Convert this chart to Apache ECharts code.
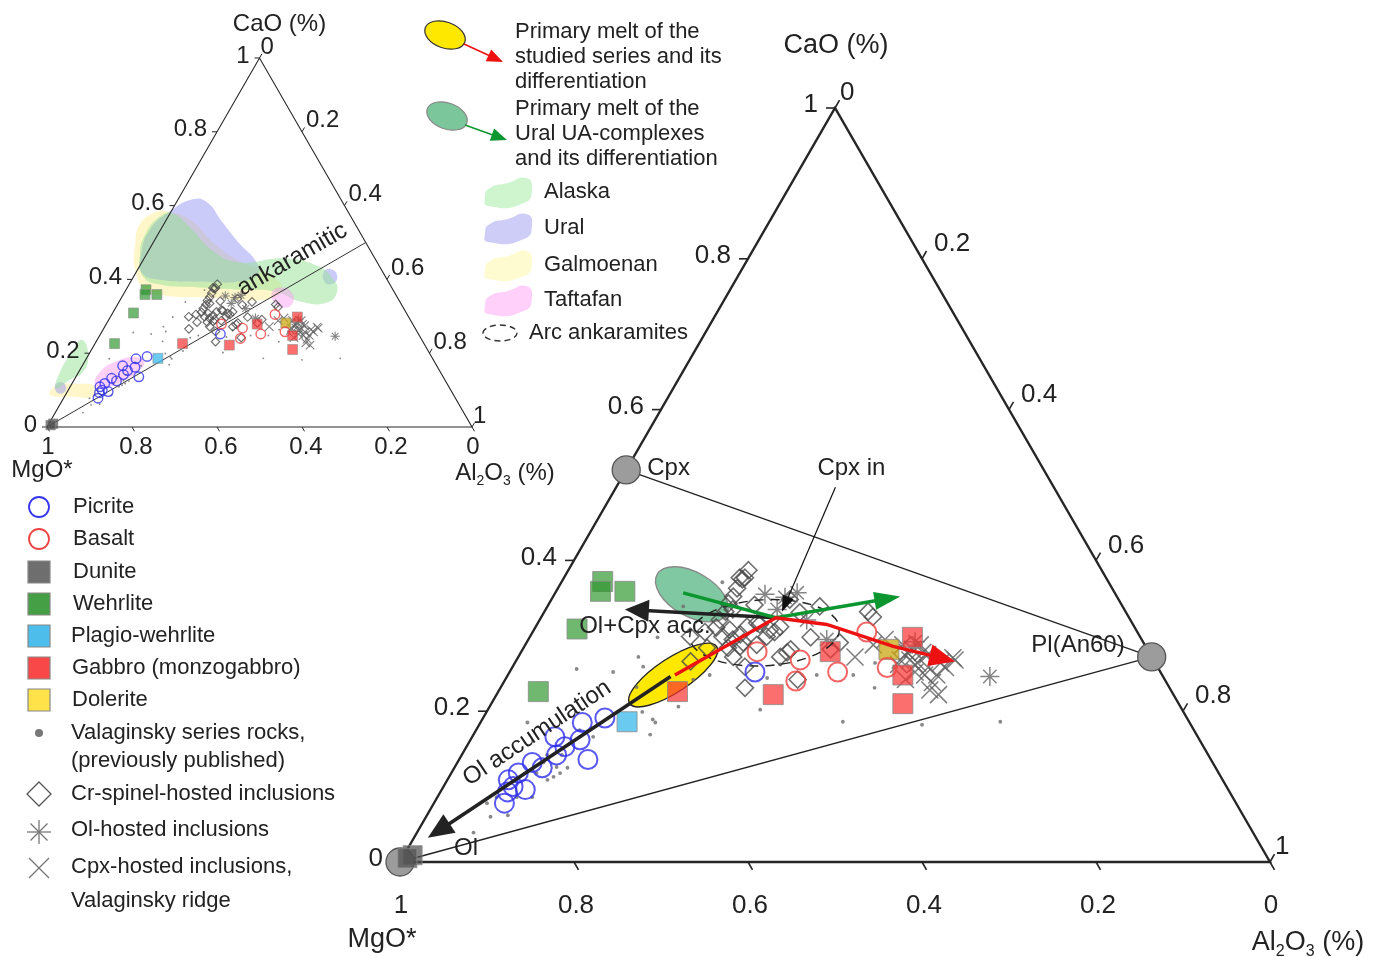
<!DOCTYPE html>
<html><head><meta charset="utf-8">
<script src="https://cdn.jsdelivr.net/npm/echarts@6/dist/echarts.min.js"></script>
<style>html,body{margin:0;padding:0;background:#fff}#c{width:1377px;height:957px}</style>
</head><body><div id="c"></div>
<script>
// ---------- DATA: ternary compositions [Al2O3, CaO] (MgO* = 1 - Al2O3 - CaO) ----------
const tickVals = [0, 0.2, 0.4, 0.6, 0.8, 1];
const tickText = ['0', '0.2', '0.4', '0.6', '0.8', '1'];

const picrite = [[0.140,0.191],[0.117,0.185],[0.126,0.162],[0.148,0.136],[0.113,0.153],[0.095,0.166],[0.109,0.142],[0.101,0.125],[0.086,0.132],[0.077,0.118],[0.070,0.109],[0.080,0.100],[0.096,0.096],[0.081,0.078],[0.077,0.093],[0.282,0.252]];
const basalt = [[0.271,0.279],[0.326,0.268],[0.335,0.240],[0.377,0.252],[0.384,0.305],[0.431,0.258]];
const dunite = [[0.010,0.009],[0.006,0.005]];
const wehrlite = [[0.047,0.372],[0.051,0.359],[0.079,0.359],[0.049,0.309],[0.046,0.226]];
const plagioWehrlite = [[0.168,0.186]];
const gabbro = [[0.206,0.226],[0.318,0.222],[0.355,0.279],[0.440,0.298],[0.454,0.248],[0.473,0.210]];
const dolerite = [[0.421,0.282]];
const valaginsky = [[0.075,0.256],[0.119,0.252],[0.138,0.272],[0.150,0.259],[0.054,0.185],[0.139,0.166],[0.196,0.189],[0.203,0.169],[0.130,0.125],[0.120,0.113],[0.115,0.109],[0.125,0.118],[0.098,0.118],[0.074,0.060],[0.093,0.062],[0.065,0.039],[0.068,0.086],[0.061,0.078],[0.091,0.086],[0.109,0.086],[0.119,0.175],[0.115,0.142],[0.098,0.142],[0.099,0.132],[0.117,0.126],[0.216,0.242],[0.217,0.206],[0.179,0.199],[0.185,0.371],[0.156,0.339],[0.147,0.298],[0.232,0.248],[0.300,0.244],[0.355,0.248],[0.397,0.248],[0.430,0.231],[0.509,0.182],[0.597,0.186],[0.416,0.186],[0.201,0.185],[0.156,0.232],[0.313,0.202],[0.414,0.264],[0.306,0.262]];
const crSpinelIncl = [[0.207,0.387],[0.206,0.375],[0.206,0.363],[0.207,0.352],[0.206,0.343],[0.208,0.332],[0.207,0.321],[0.208,0.311],[0.198,0.305],[0.184,0.299],[0.221,0.299],[0.235,0.295],[0.248,0.286],[0.247,0.272],[0.281,0.231],[0.271,0.308],[0.281,0.312],[0.306,0.278],[0.336,0.242],[0.313,0.339],[0.354,0.282],[0.360,0.291],[0.372,0.332],[0.381,0.325],[0.237,0.341],[0.256,0.315],[0.294,0.331],[0.323,0.298],[0.211,0.284],[0.267,0.259],[0.202,0.377],[0.274,0.348],[0.201,0.266],[0.252,0.317],[0.243,0.312],[0.240,0.302],[0.249,0.291],[0.266,0.288],[0.272,0.299],[0.278,0.305],[0.235,0.284],[0.225,0.308],[0.215,0.335],[0.301,0.272],[0.308,0.282],[0.208,0.377]];
const olIncl = [[0.242,0.355],[0.278,0.357],[0.266,0.335],[0.307,0.321],[0.343,0.295],[0.446,0.292],[0.555,0.246],[0.267,0.351]];
const cpxIncl = [[0.387,0.272],[0.495,0.228],[0.493,0.248],[0.500,0.271],[0.463,0.264],[0.444,0.278],[0.462,0.278],[0.466,0.252],[0.400,0.288],[0.478,0.258],[0.452,0.268],[0.442,0.262],[0.489,0.264],[0.460,0.242],[0.434,0.288],[0.448,0.282],[0.454,0.288],[0.469,0.275],[0.441,0.268],[0.461,0.262],[0.479,0.248],[0.493,0.238],[0.508,0.222],[0.504,0.268],[0.410,0.295],[0.498,0.258]];

// fields (inset diagram)
const alaskaA = [[-0.030,0.522],[-0.019,0.571],[0.005,0.579],[0.066,0.541],[0.153,0.476],[0.231,0.446],[0.327,0.457],[0.417,0.437],[0.472,0.402],[0.499,0.367],[0.490,0.337],[0.426,0.340],[0.353,0.367],[0.268,0.372],[0.171,0.378],[0.073,0.386],[0.022,0.408],[-0.015,0.467]];
const alaskaB = [[-0.036,0.236],[-0.001,0.196],[0.010,0.149],[-0.010,0.128],[-0.032,0.106],[-0.044,0.149],[-0.043,0.204]];
const uralA = [[0.014,0.418],[-0.012,0.467],[-0.025,0.535],[-0.003,0.584],[0.035,0.617],[0.072,0.609],[0.133,0.557],[0.207,0.495],[0.268,0.448],[0.290,0.413],[0.257,0.394],[0.163,0.394],[0.066,0.399]];
const uralB = [[0.441,0.421],[0.457,0.427],[0.479,0.408],[0.479,0.389],[0.459,0.391]];
const uralC = [[-0.037,0.117],[-0.022,0.120],[-0.006,0.101],[-0.014,0.090],[-0.031,0.101]];
const galmoenanA = [[-0.040,0.495],[-0.056,0.549],[-0.037,0.581],[-0.007,0.584],[0.055,0.562],[0.148,0.495],[0.230,0.448],[0.318,0.413],[0.367,0.372],[0.340,0.345],[0.208,0.351],[0.100,0.356],[0.045,0.372],[-0.006,0.427]];
const galmoenanB = [[-0.036,0.087],[-0.035,0.111],[0.008,0.117],[0.063,0.109],[0.073,0.084],[0.013,0.082]];
const taftafanA = [[0.056,0.114],[0.050,0.149],[0.072,0.177],[0.112,0.190],[0.139,0.179],[0.141,0.155],[0.120,0.128],[0.083,0.106]];
const taftafanB = [[0.347,0.364],[0.364,0.378],[0.394,0.364],[0.410,0.337],[0.398,0.323],[0.373,0.332]];
const ankaramiticLine = [[0,0],[0.5,0.5]];

// main-diagram phases, trends, melts
const olPt = [0, 0], cpxPt = [0, 0.52], plPt = [0.728, 0.272];
const olAccum = [[0.188,0.246],[0.016,0.032]];
const olCpxAccum = [[0.270,0.324],[0.091,0.335]];
const uralTrend = [[0.147,0.357],[0.270,0.324],[0.399,0.352]];
const studiedTrend = [[0.192,0.248],[0.270,0.324],[0.333,0.315],[0.424,0.286],[0.505,0.266]];
const cpxInPointer = [[0.252,0.497],[0.273,0.332]];
const studiedMelt = [0.190,0.248];
const uralMelt = [0.158,0.355];
const arcAnkaramites = [0.267,0.304];
const olAccumLabel = [0.072,0.171];
const ankaramiticLabel = [0.350,0.454];

// ---------- helpers ----------
const FONT = '"Liberation Sans", Arial, Helvetica, sans-serif';
const S3 = Math.sqrt(3) / 2;
const tern = p => [p[0] + p[1] / 2, p[1] * S3];

const txt = (s, x, y, align, size, extra) => Object.assign({
  type: 'text', silent: true,
  style: Object.assign({ text: s, x, y, align, verticalAlign: 'middle', fill: '#222', fontSize: size, fontFamily: FONT }, extra || {})
});
function arrowEls(pts, color, lw, L, W) {
  const n = pts.length, p = pts[n - 1], q = pts[n - 2];
  const dx = p[0] - q[0], dy = p[1] - q[1], d = Math.hypot(dx, dy), ux = dx / d, uy = dy / d;
  const base = [p[0] - ux * L * 0.85, p[1] - uy * L * 0.85];
  const hb = [p[0] - ux * L, p[1] - uy * L];
  return [
    { type: 'polyline', shape: { points: pts.slice(0, n - 1).concat([base]) }, style: { stroke: color, lineWidth: lw, fill: null } },
    { type: 'polygon', shape: { points: [p, [hb[0] - uy * W / 2, hb[1] + ux * W / 2], [hb[0] + uy * W / 2, hb[1] - ux * W / 2]] }, style: { fill: color } }
  ];
}
const ellipse = (c, rx, ry, rot, style) => ({ type: 'ellipse', x: c[0], y: c[1], rotation: rot, shape: { cx: 0, cy: 0, rx, ry }, style });

// ---------- frame / ticks / labels ----------
function frameSeries(gi, c) {
  return {
    type: 'custom', xAxisIndex: gi, yAxisIndex: gi, z: 1, silent: true, clip: false, data: [[0, 0]],
    renderItem(params, api) {
      const P = (al, ca) => api.coord(tern([al, ca]));
      const A = P(0, 0), B = P(1, 0), C = P(0, 1);
      const ch = [{ type: 'polygon', shape: { points: [A, B, C] }, style: { fill: 'none', stroke: '#262626', lineWidth: c.lw } }];
      const L = c.tick, ts = { stroke: '#262626', lineWidth: c.tlw };
      tickVals.forEach((v, i) => {
        const end = (v === 0 || v === 1);
        const b = P(1 - v, 0);
        ch.push({ type: 'line', shape: { x1: b[0], y1: b[1], x2: b[0] + L * 0.5, y2: b[1] + L * S3 }, style: ts });
        ch.push(txt(tickText[i], b[0] + (end ? c.bdx0 : c.bdx), b[1] + c.bdy, 'center', c.fs));
        const l = P(0, v);
        ch.push({ type: 'line', shape: { x1: l[0], y1: l[1], x2: l[0] - L, y2: l[1] }, style: ts });
        ch.push(txt(tickText[i], l[0] + c.ldx, l[1] + c.ldy, 'right', c.fs));
        const r = P(v, 1 - v);
        ch.push({ type: 'line', shape: { x1: r[0], y1: r[1], x2: r[0] + L * 0.5, y2: r[1] - L * S3 }, style: ts });
        ch.push(txt(tickText[i], r[0] + (end ? c.rdx0 : c.rdx), r[1] + c.rdy, 'left', c.fs));
      });
      ch.push(txt('CaO (%)', C[0] + c.ca[0], C[1] + c.ca[1], 'center', c.tfs));
      ch.push(txt('MgO*', A[0] + c.mg[0], A[1] + c.mg[1], 'center', c.tfs));
      ch.push(txt('Al{s|2}O{s|3} (%)', B[0] + c.al[0], B[1] + c.al[1], 'center', c.tfs, {
        rich: { s: { fontSize: Math.round(c.tfs * 0.58), fontFamily: FONT, fill: '#222', verticalAlign: 'bottom', lineHeight: Math.round(c.tfs * 0.62) } },
        lineHeight: Math.round(c.tfs * 1.25)
      }));
      return { type: 'group', children: ch };
    }
  };
}

// ---------- points ----------
const P_DIAMOND = 'path://M0,-10L10,0L0,10L-10,0Z';
const P_CROSS = 'path://M-10,-10L10,10M-10,10L10,-10';
const P_STAR = 'path://M0,-10L0,10M-10,0L10,0M-7.07,-7.07L7.07,7.07M-7.07,7.07L7.07,-7.07';
function pointSeries(gi, k, bw) {
  const defs = [
    [valaginsky, 'circle', 3.8, { color: '#6b6b6b' }],
    [crSpinelIncl, P_DIAMOND, 17, { color: 'rgba(0,0,0,0)', borderColor: '#4a4a4a', borderWidth: 1.6 }],
    [cpxIncl, P_CROSS, 17, { color: 'rgba(0,0,0,0)', borderColor: '#5e5e5e', borderWidth: 1.5 }],
    [olIncl, P_STAR, 19, { color: 'rgba(0,0,0,0)', borderColor: '#666', borderWidth: 1.5 }],
    [dunite, 'rect', 19, { color: 'rgba(80,80,80,0.9)', borderColor: '#8a8a8a', borderWidth: 1 }],
    [wehrlite, 'rect', 20, { color: 'rgba(45,150,45,0.85)', borderColor: '#8a8a8a', borderWidth: 1 }],
    [plagioWehrlite, 'rect', 20, { color: 'rgba(60,185,235,0.95)', borderColor: '#8a8a8a', borderWidth: 1 }],
    [gabbro, 'rect', 20, { color: 'rgba(250,50,50,0.88)', borderColor: '#8a8a8a', borderWidth: 1 }],
    [dolerite, 'rect', 20, { color: 'rgba(200,165,15,0.92)', borderColor: '#8a8a8a', borderWidth: 1 }],
    [picrite, 'circle', 19, { color: 'rgba(0,0,0,0)', borderColor: '#3030ee', borderWidth: 2 }],
    [basalt, 'circle', 19, { color: 'rgba(0,0,0,0)', borderColor: '#f04040', borderWidth: 2 }]
  ];
  return defs.map(([d, sym, size, st]) => ({
    type: 'scatter', xAxisIndex: gi, yAxisIndex: gi, z: 3, silent: true, symbol: sym,
    symbolSize: size * k,
    itemStyle: Object.assign({}, st, { borderWidth: (st.borderWidth || 0) * bw }),
    data: d.map(tern)
  }));
}

// ---------- fields in inset ----------
function fieldSeries() {
  const fields = [
    [galmoenanA, 'rgba(255,240,150,0.5)'], [galmoenanB, 'rgba(255,240,150,0.5)'],
    [uralA, 'rgba(140,140,245,0.45)'], [uralB, 'rgba(140,140,245,0.45)'], [uralC, 'rgba(140,140,245,0.45)'],
    [alaskaA, 'rgba(150,225,150,0.5)'], [alaskaB, 'rgba(150,225,150,0.5)'],
    [taftafanA, 'rgba(250,150,245,0.45)'], [taftafanB, 'rgba(250,150,245,0.45)']
  ];
  return {
    type: 'custom', xAxisIndex: 0, yAxisIndex: 0, z: 1, silent: true, clip: false, data: [[0, 0]],
    renderItem(params, api) {
      const P = q => api.coord(tern(q));
      const ch = fields.map(([poly, col]) => ({ type: 'polygon', shape: { points: poly.map(P), smooth: 0.5 }, style: { fill: col } }));
      const a = P(ankaramiticLine[0]), b = P(ankaramiticLine[1]);
      ch.push({ type: 'line', shape: { x1: a[0], y1: a[1], x2: b[0], y2: b[1] }, style: { stroke: '#333', lineWidth: 1 } });
      const t = P(ankaramiticLabel);
      ch.push({ type: 'text', x: t[0], y: t[1], rotation: Math.PI / 6, style: { text: 'ankaramitic', x: 0, y: 0, align: 'center', verticalAlign: 'middle', fontSize: 24, fontFamily: FONT, fill: '#222' } });
      return { type: 'group', children: ch };
    }
  };
}

// ---------- main decorations ----------
function mainBelow() {
  return {
    type: 'custom', xAxisIndex: 1, yAxisIndex: 1, z: 2, silent: true, clip: false, data: [[0, 0]],
    renderItem(params, api) {
      const P = q => api.coord(tern(q));
      const ol = P(olPt), cpx = P(cpxPt), pl = P(plPt);
      const ls = { stroke: '#222', lineWidth: 1.3 };
      const ch = [
        { type: 'line', shape: { x1: cpx[0], y1: cpx[1], x2: pl[0], y2: pl[1] }, style: ls },
        { type: 'line', shape: { x1: ol[0], y1: ol[1], x2: pl[0], y2: pl[1] }, style: ls },
        ellipse(P(studiedMelt), 52, 17, 0.58, { fill: '#ffe800', stroke: '#222', lineWidth: 1.4 }),
        ellipse(P(uralMelt), 40, 22, -0.52, { fill: 'rgba(100,188,140,0.82)', stroke: '#8a8a8a', lineWidth: 1.4 })
      ];
      [ol, cpx, pl].forEach(c => ch.push({ type: 'circle', shape: { cx: c[0], cy: c[1], r: 14 }, style: { fill: '#9c9c9c', stroke: '#555', lineWidth: 1.3 } }));
      return { type: 'group', children: ch };
    }
  };
}
function mainAbove() {
  return {
    type: 'custom', xAxisIndex: 1, yAxisIndex: 1, z: 5, silent: true, clip: false, data: [[0, 0]],
    renderItem(params, api) {
      const P = q => api.coord(tern(q));
      const ch = [];
      ch.push(ellipse(P(arcAnkaramites), 75, 33, 0.06, { fill: 'none', stroke: '#222', lineWidth: 1.4, lineDash: [9, 7] }));
      ch.push(...arrowEls(olAccum.map(P), '#222', 3.6, 26, 22));
      ch.push(...arrowEls(olCpxAccum.map(P), '#222', 3.4, 24, 22));
      ch.push(...arrowEls(uralTrend.map(P), '#0c9630', 3.4, 26, 18));
      ch.push(...arrowEls(studiedTrend.map(P), '#ee1111', 3.4, 26, 22));
      ch.push(...arrowEls(cpxInPointer.map(P), '#111', 1.2, 16, 12));
      const ol = P(olPt), cpx = P(cpxPt), pl = P(plPt), ci = P(cpxInPointer[0]), oc = P(olCpxAccum[1]);
      ch.push(txt('Cpx', cpx[0] + 21, cpx[1] - 2, 'left', 24));
      ch.push(txt('Pl(An60)', pl[0] - 27, pl[1] - 12, 'right', 24));
      ch.push(txt('Ol', ol[0] + 54, ol[1] - 14, 'left', 24));
      ch.push(txt('Cpx in', ci[0] + 16, ci[1] - 19, 'center', 24));
      ch.push(txt('Ol+Cpx acc.', oc[0] + 20, oc[1] + 17, 'center', 24));
      const t = P(olAccumLabel);
      ch.push({ type: 'text', x: t[0], y: t[1], rotation: 0.586, style: { text: 'Ol accumulation', x: 0, y: 0, align: 'center', verticalAlign: 'middle', fontSize: 24, fontFamily: FONT, fill: '#222' } });
      return { type: 'group', children: ch };
    }
  };
}

// ---------- legends (graphic) ----------
const G = [];
const gtext = (s, x, y, size) => G.push({ type: 'text', silent: true, style: { text: s, x, y, align: 'left', verticalAlign: 'middle', fontSize: size || 22, fontFamily: FONT, fill: '#222' } });
// top legend
G.push({ type: 'ellipse', x: 445, y: 35, rotation: -0.35, shape: { cx: 0, cy: 0, rx: 21, ry: 13 }, style: { fill: '#ffe800', stroke: '#333', lineWidth: 1.2 } });
G.push({ type: 'group', children: arrowEls([[464, 44], [503, 62]], '#ee1111', 1.6, 16, 13) });
G.push({ type: 'ellipse', x: 447, y: 116, rotation: -0.35, shape: { cx: 0, cy: 0, rx: 21, ry: 13 }, style: { fill: '#7cc69c', stroke: '#888', lineWidth: 1.2 } });
G.push({ type: 'group', children: arrowEls([[465, 125], [507, 140]], '#0c9630', 1.6, 16, 13) });
['Primary melt of the', 'studied series and its', 'differentiation'].forEach((s, i) => gtext(s, 515, 32 + i * 25));
['Primary melt of the', 'Ural UA-complexes', 'and its differentiation'].forEach((s, i) => gtext(s, 515, 109 + i * 25));
const blob = [[-23, 5], [-18, -4], [0, -9], [18, -14], [24, -4], [16, 11], [-20, 14]];
[['Alaska', '#cff5cf', 192], ['Ural', '#cdcdf8', 228], ['Galmoenan', '#fffbd0', 265], ['Taftafan', '#ffd0fa', 300]].forEach(([n, col, y]) => {
  G.push({ type: 'polygon', shape: { points: blob.map(p => [508 + p[0], y + p[1]]), smooth: 0.6 }, style: { fill: col } });
  gtext(n, 544, y);
});
G.push({ type: 'ellipse', shape: { cx: 500, cy: 333, rx: 17, ry: 8 }, style: { fill: 'none', stroke: '#333', lineWidth: 1.4, lineDash: [6, 4] } });
gtext('Arc ankaramites', 529, 333);
// left legend
G.push({ type: 'circle', shape: { cx: 39, cy: 507, r: 10 }, style: { fill: 'none', stroke: '#3535ee', lineWidth: 1.8 } });
gtext('Picrite', 73, 507);
G.push({ type: 'circle', shape: { cx: 39, cy: 539, r: 10 }, style: { fill: 'none', stroke: '#ee4444', lineWidth: 1.8 } });
gtext('Basalt', 73, 539);
[['Dunite', '#6e6e6e', 572, 73], ['Wehrlite', '#45a045', 604, 73], ['Plagio-wehrlite', '#4dbdeb', 636, 71], ['Gabbro (monzogabbro)', '#f84848', 668, 72], ['Dolerite', '#ffe14a', 700, 72]].forEach(([n, col, y, x]) => {
  G.push({ type: 'rect', shape: { x: 28, y: y - 11, width: 22, height: 22 }, style: { fill: col, stroke: '#888', lineWidth: 1.2 } });
  gtext(n, x, y);
});
G.push({ type: 'circle', shape: { cx: 39, cy: 733, r: 4 }, style: { fill: '#777' } });
gtext('Valaginsky series rocks,', 71, 733);
gtext('(previously published)', 71, 761);
G.push({ type: 'polygon', shape: { points: [[39, 782], [51, 794], [39, 806], [27, 794]] }, style: { fill: 'none', stroke: '#555', lineWidth: 1.3 } });
gtext('Cr-spinel-hosted inclusions', 71, 794);
[[[39, 820], [39, 844]], [[27, 832], [51, 832]], [[30.5, 823.5], [47.5, 840.5]], [[30.5, 840.5], [47.5, 823.5]]].forEach(s =>
  G.push({ type: 'line', shape: { x1: s[0][0], y1: s[0][1], x2: s[1][0], y2: s[1][1] }, style: { stroke: '#777', lineWidth: 1.3 } }));
gtext('Ol-hosted inclusions', 71, 830);
[[[29, 858], [49, 878]], [[29, 878], [49, 858]]].forEach(s =>
  G.push({ type: 'line', shape: { x1: s[0][0], y1: s[0][1], x2: s[1][0], y2: s[1][1] }, style: { stroke: '#777', lineWidth: 1.3 } }));
gtext('Cpx-hosted inclusions,', 71, 867);
gtext('Valaginsky ridge', 71, 901);

// ---------- chart ----------
const chart = echarts.init(document.getElementById('c'), null, { renderer: 'canvas' });
const axisBase = { type: 'value', show: false, splitLine: { show: false } };
const smallCfg = { lw: 1.1, tlw: 1, tick: 5, fs: 24, tfs: 24, bdx: 4, bdx0: 1, bdy: 20, ldx: -10, ldy: -2, rdx: 4, rdx0: 1, rdy: -11, ca: [20, -34], mg: [-5, 43], al: [33, 46] };
const mainCfg = { lw: 2.4, tlw: 1.6, tick: 9, fs: 26, tfs: 27, bdx: 2, bdx0: 1, bdy: 44, ldx: -17, ldy: -3, rdx: 12, rdx0: 5, rdy: -15, ca: [1, -62], mg: [-18, 78], al: [38, 81] };

chart.setOption({
  animation: false,
  backgroundColor: '#fff',
  grid: [
    { left: 47, top: 58, width: 425, height: 369 },
    { left: 400, top: 108, width: 870, height: 754 }
  ],
  xAxis: [Object.assign({ gridIndex: 0, min: 0, max: 1 }, axisBase), Object.assign({ gridIndex: 1, min: 0, max: 1 }, axisBase)],
  yAxis: [Object.assign({ gridIndex: 0, min: 0, max: S3 }, axisBase), Object.assign({ gridIndex: 1, min: 0, max: S3 }, axisBase)],
  graphic: G,
  series: [
    fieldSeries(),
    frameSeries(0, smallCfg),
    frameSeries(1, mainCfg),
    mainBelow(),
    ...pointSeries(0, 0.5, 0.7),
    ...pointSeries(1, 1, 1),
    mainAbove()
  ]
});
</script></body></html>
